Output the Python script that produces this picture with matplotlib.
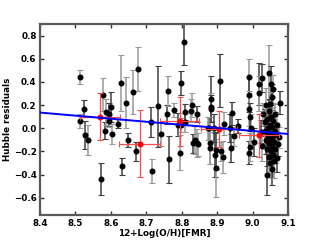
import matplotlib
matplotlib.use("Agg")
import matplotlib.pyplot as plt
import numpy as np

# individual galaxies: metallicity, Hubble residual, residual error
metal = [8.514, 8.525, 8.514, 8.526, 8.535, 8.572, 8.578, 8.584, 8.587, 8.594,
         8.595, 8.601, 8.604, 8.620, 8.628, 8.631, 8.643, 8.648, 8.663, 8.670,
         8.678, 8.714, 8.715, 8.734, 8.741, 8.758, 8.762, 8.763, 8.778, 8.789,
         8.796, 8.798, 8.798, 8.806, 8.808, 8.810, 8.829, 8.832, 8.838, 8.844,
         8.844, 8.876, 8.881, 8.882, 8.884, 8.893, 8.898, 8.907, 8.912, 8.941,
         8.948, 8.960, 8.991, 8.991, 8.991, 8.991, 8.996, 9.005,
         8.827, 8.884, 8.874, 8.890, 8.881, 8.896, 8.920, 8.936, 8.917, 8.940,
         8.846, 8.993, 8.993,
         9.017, 9.017, 9.026, 9.047, 9.052, 9.057, 9.055, 9.050, 9.078,
         9.030, 9.034, 9.036, 9.038, 9.040, 9.041, 9.043, 9.044, 9.045, 9.046,
         9.047, 9.048, 9.049, 9.050, 9.051, 9.052, 9.053, 9.054, 9.055, 9.056,
         9.057, 9.058, 9.059, 9.060, 9.061, 9.062, 9.063, 9.064, 9.066, 9.068,
         9.070, 9.072, 9.075, 9.042, 9.038, 9.025, 9.028]
resid = [0.445, 0.17, 0.06, -0.06, -0.10, -0.44, 0.29, -0.02, 0.14, 0.12,
         0.06, 0.18, -0.05, 0.04, 0.39, -0.33, 0.22, -0.10, 0.31, -0.20,
         0.51, 0.05, -0.37, 0.19, -0.05, 0.12, 0.32, -0.27, 0.155, 0.03,
         -0.21, 0.39, 0.03, 0.745, 0.05, 0.14, 0.20, -0.13, -0.10, 0.12,
         -0.13, 0.0, -0.13, 0.25, 0.18, -0.23, -0.34, 0.41, -0.20, 0.13,
         -0.07, 0.02, 0.44, 0.29, 0.17, -0.21, 0.0, -0.12,
         0.15, 0.17, 0.0, 0.0, -0.17, -0.19, 0.04, 0.0, -0.25, -0.17,
         -0.14, 0.10, -0.16,
         0.38, 0.30, 0.435, 0.48, 0.38, 0.34, 0.27, 0.21, 0.22,
         0.12, 0.05, -0.02, -0.10, 0.08, -0.18, 0.00, -0.06, -0.25, 0.15,
         -0.13, 0.03, -0.30, -0.04, -0.20, 0.10, -0.09, -0.16, 0.01, -0.35,
         -0.07, -0.23, 0.06, -0.12, -0.28, -0.02, 0.12, -0.18, -0.05, -0.26,
         0.03, -0.14, -0.08, -0.40, 0.20, -0.03, -0.15]
resid_err = [0.06, 0.07, 0.06, 0.12, 0.13, 0.14, 0.14, 0.07, 0.11, 0.10,
             0.05, 0.13, 0.09, 0.04, 0.24, 0.07, 0.22, 0.06, 0.19, 0.08,
             0.19, 0.13, 0.10, 0.35, 0.10, 0.08, 0.13, 0.20, 0.06, 0.10,
             0.15, 0.10, 0.06, 0.20, 0.08, 0.07, 0.10, 0.08, 0.12, 0.07,
             0.12, 0.10, 0.18, 0.20, 0.12, 0.19, 0.25, 0.23, 0.08, 0.10,
             0.08, 0.06, 0.16, 0.15, 0.15, 0.10, 0.12, 0.12,
             0.10, 0.12, 0.10, 0.12, 0.14, 0.16, 0.10, 0.12, 0.14, 0.12,
             0.10, 0.12, 0.12,
             0.18, 0.15, 0.12, 0.24, 0.16, 0.12, 0.11, 0.10, 0.10,
             0.10, 0.12, 0.14, 0.12, 0.09, 0.15, 0.10, 0.13, 0.14, 0.10,
             0.16, 0.08, 0.12, 0.11, 0.17, 0.10, 0.14, 0.12, 0.09, 0.14,
             0.13, 0.20, 0.12, 0.10, 0.15, 0.14, 0.09, 0.12, 0.10, 0.12,
             0.11, 0.10, 0.09, 0.18, 0.15, 0.10, 0.13]

# binned means
bin_metal = [8.569, 8.681, 8.794, 8.905, 9.019]
bin_resid = [0.10, -0.135, 0.06, -0.01, -0.06]
bin_xerr = [0.056, 0.057, 0.056, 0.05, 0.057]
bin_yerr = [0.20, 0.29, 0.21, 0.155, 0.185]

# linear fit
fit_x = [8.4, 9.1]
fit_slope = -0.264
fit_icpt = 0.135

fig = plt.figure(figsize=(3.2, 2.4), dpi=100)
ax = fig.add_axes([0.125, 0.104, 0.775, 0.796])

for i in range(len(metal)):
    ec = '0.6' if i % 2 == 0 else '0.25'
    ax.errorbar(metal[i], resid[i], yerr=resid_err[i], fmt='o', color='k',
                ecolor=ec, ms=3.3, elinewidth=1.1, capsize=2, capthick=0.8)

ax.errorbar(bin_metal, bin_resid, xerr=bin_xerr, yerr=bin_yerr, fmt='o',
            color='red', ms=3.3, ecolor=(1, 0.3, 0.3), elinewidth=0.9,
            capsize=2, capthick=0.8, zorder=4)

fx = np.array(fit_x)
ax.plot(fx, fit_icpt + fit_slope * (fx - 8.4), color='blue', lw=1.4, zorder=5)

ax.set_xlim(8.4, 9.1)
ax.set_ylim(-0.75, 0.9)
ax.set_xticks(np.arange(8.4, 9.11, 0.1))
ax.set_yticks(np.arange(-0.6, 0.81, 0.2))
ax.set_xlabel('12+Log(O/H)[FMR]', fontsize=6.3, fontweight='bold', labelpad=1)
ax.set_ylabel('Hubble residuals', fontsize=6.3, fontweight='bold', labelpad=1)
ax.tick_params(direction='in', top=True, right=True, labelsize=6.3,
               length=3, width=1, color='0.2', pad=2.5)
for lab in ax.get_xticklabels() + ax.get_yticklabels():
    lab.set_fontweight('bold')
for sp in ax.spines.values():
    sp.set_linewidth(1.6)
    sp.set_color('0.35')

fig.savefig('out.png', dpi=100)
